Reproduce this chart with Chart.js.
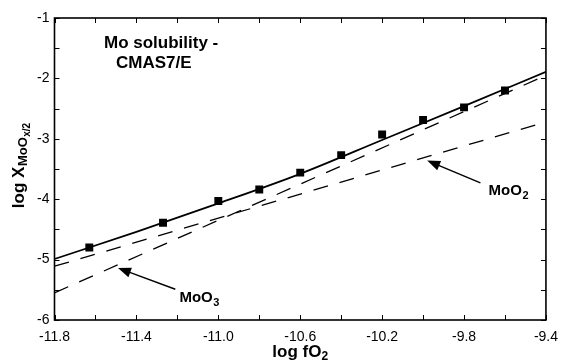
<!DOCTYPE html>
<html>
<head>
<meta charset="utf-8">
<script src="https://cdn.jsdelivr.net/npm/chart.js@4.4.1/dist/chart.umd.min.js"></script>
<style>
  html, body { margin: 0; padding: 0; background: #fff; }
  #wrap { width: 567px; height: 362px; }
</style>
</head>
<body>
<div id="wrap"><canvas id="moChart" width="567" height="362"></canvas></div>
<script>
// axis ticks
const xTicks = [-11.8, -11.4, -11.0, -10.6, -10.2, -9.8, -9.4];
const xMinor = [-11.6, -11.2, -10.8, -10.4, -10.0, -9.6];
const yTicks = [-6, -5, -4, -3, -2, -1];
const yMinor = [-5.5, -4.5, -3.5, -2.5, -1.5];

// measured points (squares)
const measX = [-11.63, -11.27, -11.00, -10.80, -10.60, -10.40, -10.20, -10.00, -9.80, -9.60];
const measY = [-4.80, -4.39, -4.03, -3.84, -3.56, -3.27, -2.93, -2.69, -2.48, -2.20];

// total fit (solid curve)
const fitX = [-11.8, -11.4, -11.0, -10.6, -10.2, -9.8, -9.4];
const fitY = [-4.99, -4.54, -4.07, -3.58, -3.02, -2.46, -1.89];

// species contributions (dashed)
const moo2X = [-11.8, -9.4];
const moo2Y = [-5.11, -2.72];
const moo3X = [-11.8, -9.4];
const moo3Y = [-5.55, -1.95];

const FONT = "'Liberation Sans', Arial, Helvetica, sans-serif";
Chart.defaults.font.family = FONT;
Chart.defaults.color = '#000';

function pts(xs, ys) { return xs.map((x, i) => ({ x: x, y: ys[i] })); }

// labelled arrows, in data units
const notes = [
  { text: 'MoO', sub: '3', tip: [-11.49, -5.14], tail: [-11.21, -5.49], at: [-11.19, -5.62] },
  { text: 'MoO', sub: '2', tip: [-9.98, -3.36], tail: [-9.72, -3.73], at: [-9.68, -3.85] }
];

const framePlugin = {
  id: 'frame',
  afterDraw(chart) {
    const ctx = chart.ctx;
    const a = chart.chartArea;
    const xs = chart.scales.x, ys = chart.scales.y;
    ctx.save();
    ctx.strokeStyle = '#000';
    ctx.fillStyle = '#000';

    // box
    ctx.lineWidth = 1.6;
    ctx.strokeRect(a.left, a.top, a.right - a.left, a.bottom - a.top);

    // inward ticks on all four sides
    ctx.lineWidth = 1;
    const tl = 5;
    ctx.beginPath();
    xTicks.concat(xMinor).forEach(v => {
      const px = Math.round(xs.getPixelForValue(v)) + 0.5;
      ctx.moveTo(px, a.bottom); ctx.lineTo(px, a.bottom - tl);
      ctx.moveTo(px, a.top); ctx.lineTo(px, a.top + tl);
    });
    yTicks.concat(yMinor).forEach(v => {
      const py = Math.round(ys.getPixelForValue(v)) + 0.5;
      ctx.moveTo(a.left, py); ctx.lineTo(a.left + tl, py);
      ctx.moveTo(a.right, py); ctx.lineTo(a.right - tl, py);
    });
    ctx.stroke();

    // title inside the plot
    ctx.font = 'bold 17px ' + FONT;
    ctx.textBaseline = 'alphabetic';
    ctx.fillText('Mo solubility -', 104, 47.5);
    ctx.fillText('CMAS7/E', 116, 67.5);

    // arrows and species labels
    notes.forEach(n => {
      const tx = xs.getPixelForValue(n.tip[0]), ty = ys.getPixelForValue(n.tip[1]);
      const bx = xs.getPixelForValue(n.tail[0]), by = ys.getPixelForValue(n.tail[1]);
      const ang = Math.atan2(ty - by, tx - bx);
      const hl = 13, hw = 5;
      ctx.lineWidth = 1.5;
      ctx.beginPath();
      ctx.moveTo(bx, by);
      ctx.lineTo(tx - Math.cos(ang) * hl * 0.8, ty - Math.sin(ang) * hl * 0.8);
      ctx.stroke();
      ctx.beginPath();
      ctx.moveTo(tx, ty);
      ctx.lineTo(tx - Math.cos(ang) * hl - Math.sin(ang) * hw, ty - Math.sin(ang) * hl + Math.cos(ang) * hw);
      ctx.lineTo(tx - Math.cos(ang) * hl + Math.sin(ang) * hw, ty - Math.sin(ang) * hl - Math.cos(ang) * hw);
      ctx.closePath();
      ctx.fill();

      const lx = xs.getPixelForValue(n.at[0]), ly = ys.getPixelForValue(n.at[1]);
      ctx.font = 'bold 15px ' + FONT;
      ctx.textBaseline = 'alphabetic';
      ctx.fillText(n.text, lx, ly + 5);
      const w = ctx.measureText(n.text).width;
      ctx.font = 'bold 11px ' + FONT;
      ctx.fillText(n.sub, lx + w + 0.5, ly + 9);
    });

    // x axis title
    ctx.font = 'bold 17px ' + FONT;
    const xt = 'log fO';
    const xw = ctx.measureText(xt).width;
    ctx.font = 'bold 12px ' + FONT;
    const xw2 = ctx.measureText('2').width;
    const cx = (a.left + a.right) / 2;
    const x0 = cx - (xw + xw2) / 2;
    ctx.font = 'bold 17px ' + FONT;
    ctx.fillText(xt, x0, 357);
    ctx.font = 'bold 12px ' + FONT;
    ctx.fillText('2', x0 + xw, 360);

    // y axis title, rotated
    ctx.translate(18, (a.top + a.bottom) / 2 - 3);
    ctx.rotate(-Math.PI / 2);
    const parts = [
      { t: 'log X', f: 'bold 17px ', dy: 6 },
      { t: 'MoO', f: 'bold 13px ', dy: 9 },
      { t: 'x/2', f: 'bold 10px ', dy: 12 }
    ];
    let total = 0;
    parts.forEach(p => { ctx.font = p.f + FONT; p.w = ctx.measureText(p.t).width; total += p.w; });
    let px = -total / 2;
    parts.forEach(p => {
      ctx.font = p.f + FONT;
      ctx.fillText(p.t, px, p.dy);
      px += p.w + 0.5;
    });
    ctx.restore();
  }
};

new Chart(document.getElementById('moChart'), {
  type: 'scatter',
  data: {
    datasets: [
      {
        label: 'fit',
        data: pts(fitX, fitY),
        showLine: true,
        borderColor: '#000',
        borderWidth: 1.8,
        pointRadius: 0,
        tension: 0.4,
        cubicInterpolationMode: 'monotone'
      },
      {
        label: 'MoO2',
        data: pts(moo2X, moo2Y),
        showLine: true,
        borderColor: '#000',
        borderWidth: 1.3,
        borderDash: [15, 12],
        pointRadius: 0
      },
      {
        label: 'MoO3',
        data: pts(moo3X, moo3Y),
        showLine: true,
        borderColor: '#000',
        borderWidth: 1.3,
        borderDash: [15, 12],
        pointRadius: 0
      },
      {
        label: 'measured',
        data: pts(measX, measY),
        showLine: false,
        pointStyle: 'rect',
        pointRadius: 5.6,
        backgroundColor: '#000',
        borderColor: '#000',
        borderWidth: 0
      }
    ]
  },
  options: {
    responsive: false,
    animation: false,
    layout: { padding: { top: 18, right: 12, left: 0, bottom: 0 } },
    plugins: { legend: { display: false }, tooltip: { enabled: false } },
    scales: {
      x: {
        type: 'linear',
        min: -11.8,
        max: -9.4,
        afterBuildTicks: s => { s.ticks = xTicks.map(v => ({ value: v })); },
        afterFit: s => { s.height = 42; },
        grid: { display: false, drawTicks: false },
        border: { display: false },
        ticks: {
          padding: 9,
          font: { size: 14 },
          maxRotation: 0,
          callback: v => v.toFixed(1)
        }
      },
      y: {
        type: 'linear',
        min: -6,
        max: -1,
        afterBuildTicks: s => { s.ticks = yTicks.map(v => ({ value: v })); },
        afterFit: s => { s.width = 54.5; },
        grid: { display: false, drawTicks: false },
        border: { display: false },
        ticks: {
          padding: 5,
          font: { size: 14 },
          callback: v => String(v)
        }
      }
    }
  },
  plugins: [framePlugin]
});
</script>
</body>
</html>
